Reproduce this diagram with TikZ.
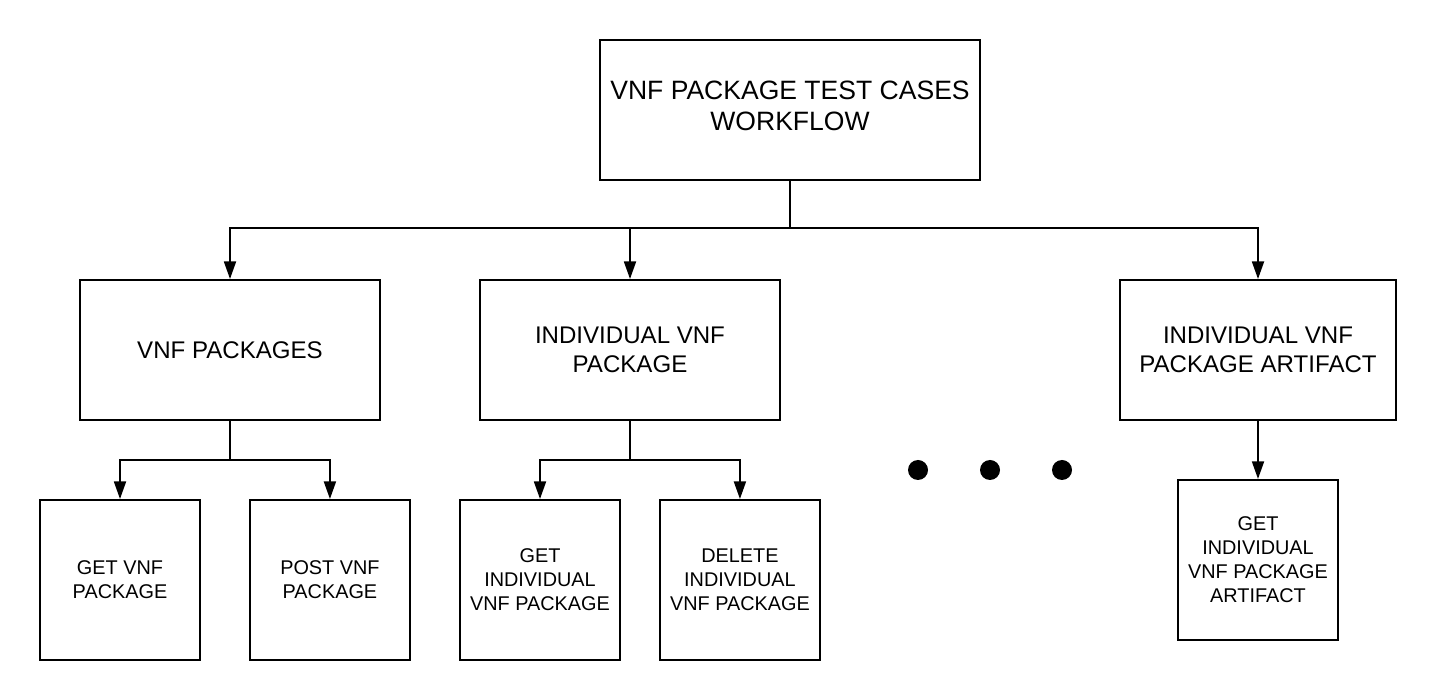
\documentclass[tikz,border=0pt]{standalone}
\usepackage{fontspec}
\setmainfont{Liberation Sans}
\usetikzlibrary{arrows.meta,positioning}
\colorlet{linecol}{black}
\tikzset{
  box/.style={draw=linecol,line width=1.1pt,inner sep=0pt,align=center},
  topbox/.style={box,minimum width=7.6cm,minimum height=2.8cm,font=\fontsize{15.1}{17.6}\selectfont},
  groupbox/.style={box,minimum width=6cm,minimum height=2.8cm,font=\fontsize{13.7}{16.4}\selectfont},
  casebox/.style={box,minimum width=3.2cm,minimum height=3.2cm,font=\fontsize{11.3}{13.6}\selectfont},
  link/.style={draw=linecol,line width=1.1pt},
  linkarrow/.style={link,-{Triangle[length=10pt,width=6.8pt]}}
}
\begin{document}
\begin{tikzpicture}[scale=1]
\useasboundingbox (0,0) rectangle (28.72,14);
% top of the tree
\node[topbox] (workflow) at (15.8,11.8) {VNF PACKAGE TEST CASES\\WORKFLOW\\[-0.46cm]};
% resource groups
\node[groupbox] (pkgs) at (4.6,7) {VNF PACKAGES};
\node[groupbox] (indiv) at (12.6,7) {INDIVIDUAL VNF\\PACKAGE};
\node[groupbox,minimum width=5.52cm] (artifact) at (25.16,7) {INDIVIDUAL VNF\\PACKAGE ARTIFACT};
% test cases
\node[casebox] (getpkgs) at (2.4,2.4) {GET VNF\\PACKAGE};
\node[casebox,right=0.96cm of getpkgs] (postpkgs) {POST VNF\\PACKAGE};
\node[casebox] (getindiv) at (10.8,2.4) {GET\\INDIVIDUAL\\VNF PACKAGE};
\node[casebox,right=0.76cm of getindiv] (delindiv) {DELETE\\INDIVIDUAL\\VNF PACKAGE};
\node[casebox,below=1.16cm of artifact] (getartifact) {GET\\INDIVIDUAL\\VNF PACKAGE\\ARTIFACT};
% connectors
\coordinate (busA) at (15.8,9.44);
\coordinate (busB) at (4.6,4.8);
\coordinate (busC) at (12.6,4.8);
\draw[link] (workflow) -- (busA);
\draw[linkarrow] (busA) -| (pkgs);
\draw[linkarrow] (busA) -| (indiv);
\draw[linkarrow] (busA) -| (artifact);
\draw[link] (pkgs) -- (busB);
\draw[linkarrow] (busB) -| (getpkgs);
\draw[linkarrow] (busB) -| (postpkgs);
\draw[link] (indiv) -- (busC);
\draw[linkarrow] (busC) -| (getindiv);
\draw[linkarrow] (busC) -| (delindiv);
\draw[linkarrow] (artifact) -- (getartifact);
% more resources
\foreach \x in {18.36,19.8,21.24} \fill[linecol] (\x,4.6) circle (0.2);
\end{tikzpicture}
\end{document}
